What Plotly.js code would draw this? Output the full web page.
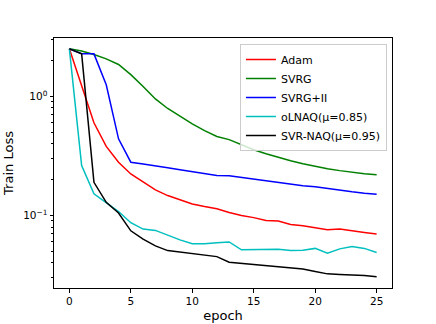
<!DOCTYPE html>
<html>
<head>
<meta charset="utf-8">
<script src="https://cdn.plot.ly/plotly-3.0.1.min.js"></script>
<style>
  body { margin: 0; padding: 0; background: #fff; }
  #chart { width: 436px; height: 324px; }
</style>
</head>
<body>
<div id="chart"></div>
<script>
var epochs = [];
for (var i = 0; i <= 25; i++) epochs.push(i);

var adam = [2.5, 1.21, 0.60, 0.38, 0.28, 0.223, 0.19, 0.164, 0.147, 0.135, 0.125, 0.119, 0.114,
            0.106, 0.100, 0.096, 0.091, 0.090, 0.084, 0.082, 0.079, 0.076, 0.077, 0.074, 0.072, 0.070];
var svrg = [2.5, 2.4, 2.24, 2.06, 1.85, 1.52, 1.21, 0.95, 0.79, 0.68, 0.586, 0.515, 0.46,
            0.433, 0.39, 0.356, 0.33, 0.307, 0.288, 0.272, 0.258, 0.247, 0.238, 0.23, 0.224, 0.22];
var svrgII = [2.5, 2.28, 2.27, 1.25, 0.44, 0.28, 0.27, 0.262, 0.252, 0.242, 0.233, 0.224, 0.217,
              0.216, 0.209, 0.202, 0.196, 0.19, 0.184, 0.178, 0.174, 0.168, 0.162, 0.158, 0.154, 0.151];
var olnaq = [2.5, 0.262, 0.152, 0.127, 0.108, 0.087, 0.077, 0.075, 0.068, 0.0625, 0.058, 0.058, 0.059,
             0.060, 0.0515, 0.0515, 0.0515, 0.052, 0.051, 0.0512, 0.053, 0.0483, 0.0525, 0.055, 0.053, 0.049];
var svrnaq = [2.5, 2.27, 0.19, 0.129, 0.105, 0.0744, 0.0634, 0.0556, 0.0508, 0.0492, 0.0482, 0.0468, 0.0452,
              0.0406, 0.0398, 0.0386, 0.038, 0.0375, 0.0365, 0.0356, 0.0339, 0.0324, 0.032, 0.0318, 0.0314, 0.0307];

var names = ['Adam', 'SVRG', 'SVRG+II', 'oLNAQ(μ=0.85)', 'SVR-NAQ(μ=0.95)'];
var colors = ['#ff0000', '#008000', '#0000ff', '#00bfbf', '#000000'];
var series = [adam, svrg, svrgII, olnaq, svrnaq];

// log-axis ticks
var yMajor = [0.1, 1];
var yMajorText = ['10<sup>−1</sup>', '10<sup>0</sup>'];
var yMinor = [0.03, 0.04, 0.05, 0.06, 0.07, 0.08, 0.09, 0.2, 0.3, 0.4, 0.5, 0.6, 0.7, 0.8, 0.9, 2, 3];

var data = series.map(function (ys, k) {
  return {
    x: epochs,
    y: ys,
    mode: 'lines',
    name: names[k],
    line: {color: colors[k], width: 1.5}
  };
});

var layout = {
  width: 436,
  height: 324,
  margin: {l: 54, r: 44, t: 38, b: 36},
  paper_bgcolor: '#fff',
  plot_bgcolor: '#fff',
  font: {family: 'DejaVu Sans', size: 10.5, color: '#000'},
  showlegend: true,
  legend: {
    x: 0.985, y: 0.976, xanchor: 'right', yanchor: 'top',
    bordercolor: '#cccccc', borderwidth: 1, bgcolor: 'rgba(255,255,255,0.8)',
    font: {size: 11}, tracegroupgap: 0
  },
  xaxis: {
    title: {text: 'epoch', standoff: 4},
    range: [-1.25, 26.25],
    tickvals: [0, 5, 10, 15, 20, 25],
    ticks: 'outside', ticklen: 3.5, tickcolor: '#000',
    showgrid: false, zeroline: false,
    showline: true, linecolor: '#000', linewidth: 1, mirror: true
  },
  yaxis: {
    title: {text: 'Train Loss', standoff: 6},
    type: 'log',
    range: [-1.608, 0.489],
    tickvals: yMajor,
    ticktext: yMajorText,
    ticks: 'outside', ticklen: 3.5, tickcolor: '#000',
    minor: {tickmode: 'array', tickvals: yMinor, ticks: 'outside', ticklen: 2, tickcolor: '#000', showgrid: false},
    showgrid: false, zeroline: false,
    showline: true, linecolor: '#000', linewidth: 1, mirror: true
  }
};

Plotly.newPlot('chart', data, layout, {displayModeBar: false, staticPlot: true});
</script>
</body>
</html>
